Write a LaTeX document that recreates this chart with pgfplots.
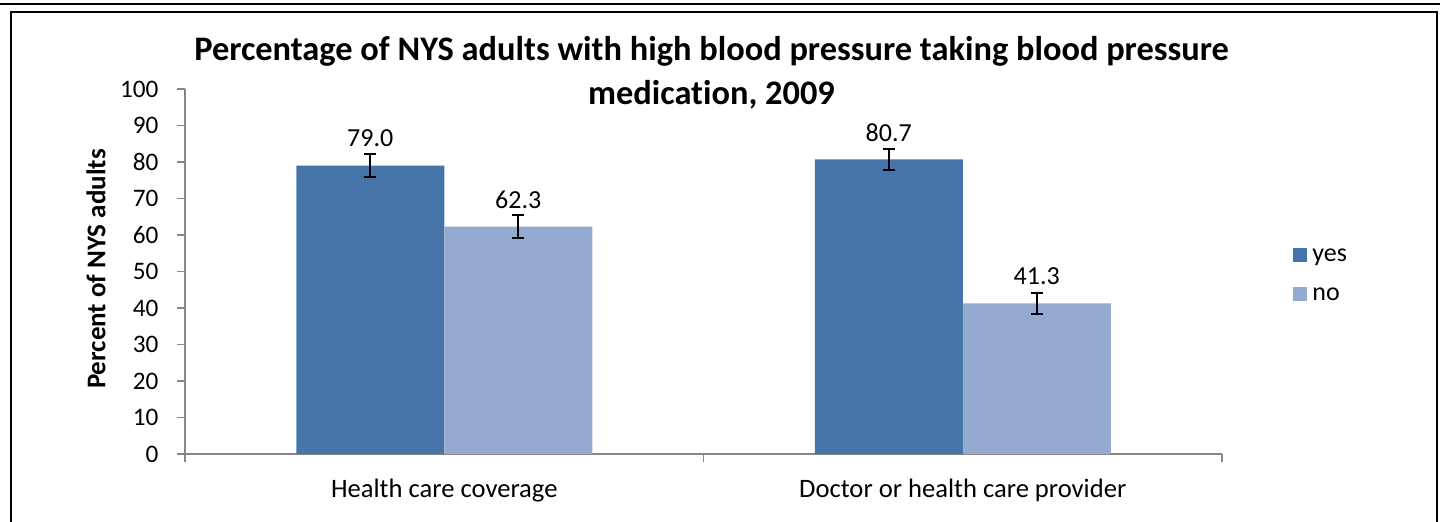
\documentclass[border=0pt]{standalone}
\usepackage{pgfplots}
\pgfplotsset{compat=1.18}
\usepackage{fontspec}
\setmainfont{Carlito}[Ligatures=NoCommon]
\definecolor{yescol}{HTML}{4674A8}
\definecolor{nocol}{HTML}{95AAD1}
\definecolor{axisgray}{HTML}{868686}
\begin{document}
\begin{tikzpicture}
\path[use as bounding box] (0,0) rectangle (720pt,260.5pt);
\draw[line width=1pt] (0,258.65pt) -- (720pt,258.65pt);
\draw[line width=1pt] (5.5pt,-5pt) -- (5.5pt,254.6pt) -- (718.5pt,254.6pt) -- (718.5pt,-5pt);
\begin{axis}[
  at={(92.5pt,33.5pt)}, anchor=south west,
  scale only axis, width=518.5pt, height=182.5pt,
  ybar=0pt, bar width=74pt,
  xmin=0.5, xmax=2.5, ymin=0, ymax=100,
  ytick={0,10,...,100},
  xtick={0.5,1.5,2.5}, xticklabels={},
  extra x ticks={1,2},
  extra x tick labels={Health care coverage,Doctor or health care provider},
  extra x tick style={major tick length=0pt, xticklabel style={yshift=-9pt, font=\fontsize{13.3}{15}\selectfont}},
  axis lines*=left,
  axis line style={axisgray, line width=0.75pt},
  tick style={axisgray, line width=0.75pt},
  tick align=outside,
  major tick length=3.8pt,
  /pgf/number format/assume math mode=true,
  ticklabel style={font=\fontsize{12.6}{15}\selectfont, text=black},
  yticklabel style={xshift=-6pt},
  ylabel={Percent of NYS adults},
  ylabel style={at={(axis description cs:-0.0858,0.5068)}, anchor=center, font=\bfseries\fontsize{13.5}{15}\selectfont},
  title={Percentage of NYS adults with high blood pressure taking blood pressure\\medication, 2009},
  title style={at={(axis description cs:0.5077,0.925)}, anchor=base, align=center, inner sep=0pt, font=\bfseries\fontsize{17.2}{22}\selectfont},
  nodes near coords,
  nodes near coords style={anchor=center, yshift=13.5pt, font=\fontsize{13}{15}\selectfont, text=black,
    /pgf/number format/.cd, fixed, fixed zerofill, precision=1, assume math mode=true},
  error bars/error bar style={line width=1pt, black},
  error bars/error mark options={rotate=90, mark size=3pt, line width=1pt, black},
  legend style={draw=none, fill=none, at={(axis description cs:1,0.5)}, anchor=west, xshift=35.5pt, yshift=-1.5pt,
    inner sep=0pt, row sep=7.5pt, font=\fontsize{13}{15}\selectfont,
    nodes={inner sep=0pt, text height=9pt, text depth=3pt}},
  legend cell align=left,
  legend image code/.code={\fill[#1] (0pt,-3.5pt) rectangle (7pt,3.5pt); \path (9.5pt,0pt);},
]
\addplot[fill=yescol, draw=none, error bars/.cd, y dir=both, y explicit]
  coordinates {(1,79.0) +- (0,3.1) (2,80.7) +- (0,2.9)};
\addlegendentry{yes}
\addplot[fill=nocol, draw=none, error bars/.cd, y dir=both, y explicit]
  coordinates {(1,62.3) +- (0,3.1) (2,41.3) +- (0,2.9)};
\addlegendentry{no}
\end{axis}
\end{tikzpicture}
\end{document}
